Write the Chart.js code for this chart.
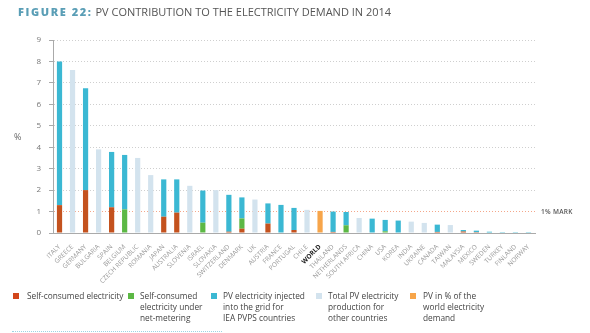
<!DOCTYPE html>
<html><head><meta charset="utf-8">
<script src="https://cdn.jsdelivr.net/npm/chart.js@4/dist/chart.umd.min.js"></script>
<style>
body{margin:0;width:590px;height:333px;overflow:hidden;background:#fff;font-family:"Open Sans",sans-serif;position:relative}
#wrap{position:absolute;left:0;top:0;width:590px;height:333px}
.t{position:absolute;white-space:nowrap}
#title{left:18px;top:4px;font-size:11px;color:#555}
#title b{color:#5a9eb6;letter-spacing:1.6px;font-weight:800}
#pct{left:14px;top:130px;font-size:9px;color:#666}
#mark{left:541px;top:207px;font-size:6.5px;color:#555;font-weight:600;letter-spacing:0.3px}
.lg{position:absolute;top:291px;font-size:8.3px;line-height:10.8px;color:#444}
.sq{position:absolute;top:293px;width:6px;height:6px}
#dots{position:absolute;left:12px;top:331px;width:210px;border-top:1px dotted #9fd3e3}
</style></head><body>
<div id="wrap"><canvas id="c" width="590" height="333"></canvas></div>
<div class="t" id="title"><b>FIGURE 22:</b> PV CONTRIBUTION TO THE ELECTRICITY DEMAND IN 2014</div>
<div class="t" id="pct">%</div>
<div class="t" id="mark">1% MARK</div>
<div class="sq" style="left:13px;background:#d2461c"></div><div class="lg" style="left:27px">Self-consumed electricity</div>
<div class="sq" style="left:128px;background:#5cb845"></div><div class="lg" style="left:140px">Self-consumed<br>electricity under<br>net-metering</div>
<div class="sq" style="left:211px;background:#3bb8d3"></div><div class="lg" style="left:223px">PV electricity injected<br>into the grid for<br>IEA PVPS countries</div>
<div class="sq" style="left:316px;background:#d3e3ee"></div><div class="lg" style="left:328px">Total PV electricity<br>production for<br>other countries</div>
<div class="sq" style="left:410px;background:#f7a54a"></div><div class="lg" style="left:423px">PV in % of the<br>world electricity<br>demand</div>
<div id="dots"></div>
<script>
const countries = ["ITALY","GREECE","GERMANY","BULGARIA","SPAIN","BELGIUM","CZECH REPUBLIC","ROMANIA","JAPAN","AUSTRALIA","SLOVENIA","ISRAEL","SLOVAKIA","SWITZERLAND","DENMARK","UK","AUSTRIA","FRANCE","PORTUGAL","CHILE","WORLD","THAILAND","NETHERLANDS","SOUTH AFRICA","CHINA","USA","KOREA","INDIA","UKRAINE","CANADA","TAIWAN","MALAYSIA","MEXICO","SWEDEN","TURKEY","FINLAND","NORWAY"];
const selfConsumed = [1.3,0,2.0,0,1.2,0,0,0,0.76,0.95,0,0,0,0.06,0.2,0,0.44,0,0.14,0,0,0.05,0,0,0,0,0,0,0,0.05,0,0.07,0.04,0,0,0,0];
const netMetering  = [0,0,0,0,0,1.1,0,0,0,0,0,0.48,0,0,0.48,0,0,0,0,0,0,0,0.36,0,0,0.08,0,0,0,0,0,0,0,0,0,0,0];
const injected     = [6.7,0,4.75,0,2.58,2.54,0,0,1.74,1.55,0,1.5,0,1.72,0.98,0,0.94,1.31,1.03,0,0,0.95,0.62,0,0.67,0.53,0.58,0,0,0.34,0,0.07,0.07,0.06,0.04,0.04,0.04];
const otherTotal   = [0,7.6,0,3.9,0,0,3.5,2.7,0,0,2.2,0,2.0,0,0,1.56,0,0,0,1.08,0,0,0,0.7,0,0,0,0.53,0.47,0,0.37,0,0,0,0,0,0,0];
const worldShare   = [0,0,0,0,0,0,0,0,0,0,0,0,0,0,0,0,0,0,0,0,1.03,0,0,0,0,0,0,0,0,0,0,0,0,0,0,0,0];
const yTicks = [0,1,2,3,4,5,6,7,8,9];

const ds = (label,data,color)=>({label,data,backgroundColor:color,borderWidth:0,barPercentage:0.4,categoryPercentage:1.0,stack:'s'});
new Chart(document.getElementById('c'),{
  type:'bar',
  data:{labels:countries,datasets:[
    ds('Self-consumed electricity',selfConsumed,'#c4521e'),
    ds('Self-consumed electricity under net-metering',netMetering,'#5cb845'),
    ds('PV electricity injected into the grid for IEA PVPS countries',injected,'#3bb8d3'),
    ds('Total PV electricity production for other countries',otherTotal,'#d3e3ee'),
    ds('PV in % of the world electricity demand',worldShare,'#f7a54a')
  ]},
  options:{
    responsive:false,animation:false,
    layout:{padding:{left:0,top:40,right:55,bottom:0}},
    plugins:{legend:{display:false},tooltip:{enabled:false}},
    scales:{
      x:{stacked:true,
        afterFit:s=>{s.height=100;},
        border:{display:true,color:'#aaa',width:1},
        grid:{display:false},
        ticks:{autoSkip:false,minRotation:45,maxRotation:45,padding:2,
          color:c=>countries[c.index]==='WORLD'?'#222':'#999',
          font:c=>({family:'Open Sans',size:6.5,weight:countries[c.index]==='WORLD'?'bold':'normal'})}
      },
      y:{stacked:true,min:0,max:9,
        afterFit:s=>{s.width=53;},
        afterBuildTicks:s=>{s.ticks=yTicks.map(v=>({value:v}));},
        border:{display:true,color:'#aaa',width:1,dash:[1,2]},
        grid:{drawTicks:true,tickLength:4,tickColor:'#aaa',tickBorderDash:[],
          color:c=>c.tick&&c.tick.value===0?'rgba(0,0,0,0)':(c.tick&&c.tick.value===1?'#f4a78a':'#cfcfcf'),
          lineWidth:1},
        ticks:{padding:8,color:'#777',font:{family:'Open Sans',size:8}}
      }
    }
  }
});
</script>
</body></html>
